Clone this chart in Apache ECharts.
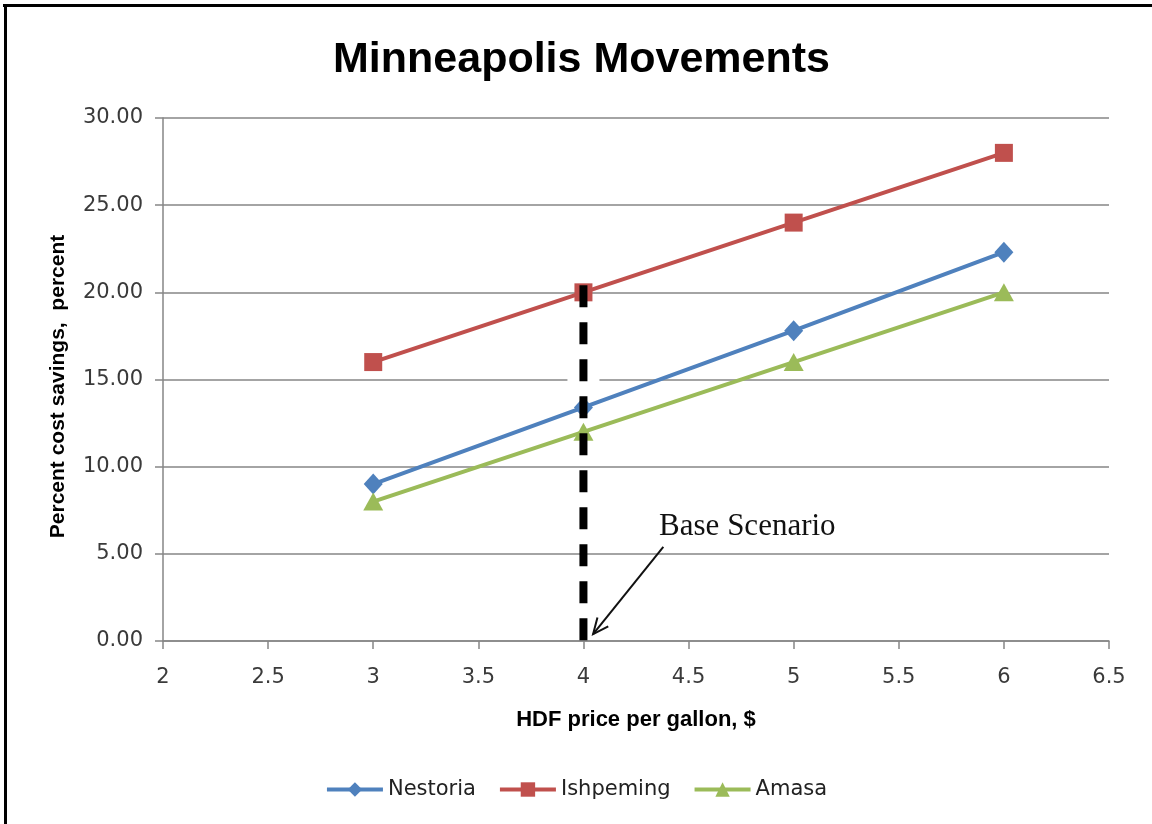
<!DOCTYPE html>
<html>
<head>
<meta charset="utf-8">
<script src="https://cdn.jsdelivr.net/npm/echarts@6/dist/echarts.min.js"></script>
<style>
  html, body { margin: 0; padding: 0; background: #ffffff; }
  #chart { width: 1152px; height: 824px; }
</style>
</head>
<body>
<div id="chart"></div>
<script>
// HDF price per gallon ($) for each scenario
const priceX = [3, 4, 5, 6];

// Percent cost savings by destination
const nestoria  = [9.0, 13.4, 17.8, 22.3];
const ishpeming = [16.0, 20.0, 24.0, 28.0];
const amasa     = [8.0, 12.0, 16.0, 20.0];

const seriesNames = ['Nestoria', 'Ishpeming', 'Amasa'];

// Base scenario marker line (price, and the height the dashed line reaches)
const basePrice = 4;
const baseLineTop = 20.4;

// Annotation anchor points in data units
const noteText = 'Base Scenario';
const noteTextAt = [4.36, 6.55];
const arrowTail = [4.38, 5.4];
const arrowHead = [4.046, 0.4];

const COLORS = ['#4F81BD', '#C0504D', '#9BBB59'];
const AXIS_GRAY = '#868686';
const TICK_FONT = 'DejaVu Sans';

const pairs = ys => priceX.map((x, i) => [x, ys[i]]);

const chart = echarts.init(document.getElementById('chart'), null, { renderer: 'canvas' });

const option = {
  backgroundColor: '#ffffff',
  animation: false,
  title: {
    text: 'Minneapolis Movements',
    left: 328,
    top: 34,
    textStyle: {
      fontFamily: 'Liberation Sans',
      fontWeight: 'bold',
      fontSize: 43,
      color: '#000000'
    }
  },
  grid: { left: 163, right: 43, top: 118, bottom: 183, containLabel: false },
  xAxis: {
    type: 'value',
    min: 2,
    max: 6.5,
    interval: 0.5,
    name: 'HDF price per gallon, $',
    nameLocation: 'middle',
    nameGap: 68,
    nameTextStyle: {
      fontFamily: 'Liberation Sans', fontWeight: 'bold', fontSize: 22, color: '#000000'
    },
    axisLine: { show: true, lineStyle: { color: AXIS_GRAY, width: 1.5 } },
    axisTick: { show: true, inside: false, length: 8, lineStyle: { color: AXIS_GRAY, width: 1.5 } },
    axisLabel: {
      margin: 26,
      fontFamily: TICK_FONT, fontSize: 21, color: '#3a3a3a',
      formatter: v => String(v)
    },
    splitLine: { show: false }
  },
  yAxis: {
    type: 'value',
    min: 0,
    max: 30,
    interval: 5,
    name: 'Percent cost savings,  percent',
    nameLocation: 'middle',
    nameGap: 94,
    nameRotate: 90,
    nameTextStyle: {
      fontFamily: 'Liberation Sans', fontWeight: 'bold', fontSize: 21, color: '#000000',
      padding: [0, 14, 0, 0]
    },
    axisLine: { show: true, lineStyle: { color: AXIS_GRAY, width: 1.5 } },
    axisTick: { show: true, inside: false, length: 8, lineStyle: { color: AXIS_GRAY, width: 1.5 } },
    axisLabel: {
      margin: 20,
      fontFamily: TICK_FONT, fontSize: 21, color: '#3a3a3a',
      formatter: v => v.toFixed(2)
    },
    splitLine: { show: true, lineStyle: { color: AXIS_GRAY, width: 1.5 } }
  },
  legend: {
    data: seriesNames,
    bottom: 19,
    left: 'center',
    itemWidth: 56,
    itemHeight: 18,
    itemGap: 22,
    lineStyle: { width: 4 },
    textStyle: { fontFamily: TICK_FONT, fontSize: 21, color: '#222222' }
  },
  series: [
    {
      name: 'Nestoria', type: 'line', data: pairs(nestoria),
      symbol: 'diamond', symbolSize: [19, 21],
      lineStyle: { color: COLORS[0], width: 4 },
      itemStyle: { color: COLORS[0] },
      z: 3
    },
    {
      name: 'Ishpeming', type: 'line', data: pairs(ishpeming),
      symbol: 'rect', symbolSize: 18,
      lineStyle: { color: COLORS[1], width: 4 },
      itemStyle: { color: COLORS[1] },
      z: 3
    },
    {
      name: 'Amasa', type: 'line', data: pairs(amasa),
      symbol: 'triangle', symbolSize: [20, 18],
      lineStyle: { color: COLORS[2], width: 4 },
      itemStyle: { color: COLORS[2] },
      z: 3
    },
    {
      // Dashed base scenario line
      name: 'base', type: 'line',
      data: [[basePrice, baseLineTop], [basePrice, 0]],
      symbol: 'none',
      lineStyle: { color: '#000000', width: 8, type: [22, 15], cap: 'butt' },
      silent: true,
      z: 5
    }
  ]
};

chart.setOption(option);

// Annotation: text, arrow, and the page frame
function drawOverlays() {
  const toPx = p => chart.convertToPixel({ gridIndex: 0 }, p);
  const tail = toPx(arrowTail);
  const head = toPx(arrowHead);
  const txt = toPx(noteTextAt);
  const gapCenter = toPx([basePrice, 15]);

  const dx = tail[0] - head[0], dy = tail[1] - head[1];
  const len = Math.hypot(dx, dy);
  const ux = dx / len, uy = dy / len;
  const hl = 17, ang = 0.42;
  const rot = (a) => [ux * Math.cos(a) - uy * Math.sin(a), ux * Math.sin(a) + uy * Math.cos(a)];
  const r1 = rot(ang), r2 = rot(-ang);

  chart.setOption({
    graphic: [
      {
        // small break in the 15.00 gridline around the dashed line
        type: 'rect', z: 1,
        shape: { x: gapCenter[0] - 16, y: gapCenter[1] - 2, width: 32, height: 4 },
        style: { fill: '#ffffff' }
      },
      {
        type: 'text', z: 10,
        x: txt[0], y: txt[1],
        style: {
          text: noteText,
          font: '31px "Liberation Serif"',
          fill: '#111111',
          textVerticalAlign: 'middle',
          textAlign: 'left'
        }
      },
      {
        type: 'line', z: 10,
        shape: { x1: tail[0], y1: tail[1], x2: head[0], y2: head[1] },
        style: { stroke: '#111111', lineWidth: 2 }
      },
      {
        type: 'polyline', z: 10,
        shape: {
          points: [
            [head[0] + r1[0] * hl, head[1] + r1[1] * hl],
            head,
            [head[0] + r2[0] * hl, head[1] + r2[1] * hl]
          ]
        },
        style: { stroke: '#111111', lineWidth: 2, fill: null }
      },
      {
        type: 'rect', z: 10,
        shape: { x: 3, y: 4, width: 1149, height: 3 },
        style: { fill: '#000000' }
      },
      {
        type: 'rect', z: 10,
        shape: { x: 4, y: 4, width: 3, height: 820 },
        style: { fill: '#000000' }
      }
    ]
  });
}
drawOverlays();
</script>
</body>
</html>
